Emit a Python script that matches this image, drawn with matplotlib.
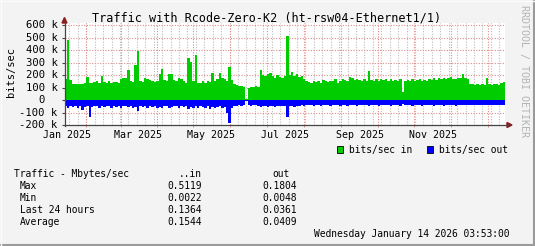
import numpy as np
import matplotlib.pyplot as plt
import matplotlib.transforms as mtransforms
from matplotlib.patches import Rectangle, Polygon
from matplotlib.lines import Line2D

plt.rcParams['font.family'] = ['DejaVu Sans Mono']

# traffic in k bits/sec, one value per 2 days, first value 2 days before Jan 1 2025
traffic_in = [
    165, 484, 160, 128, 130, 127, 132, 128, 135, 185,
    140, 138, 145, 150, 140, 195, 145, 140, 150, 138,
    142, 148, 140, 165, 175, 180, 238, 150, 145, 278,
    397, 150, 142, 175, 168, 160, 150, 145, 150, 205,
    246, 160, 150, 205, 210, 160, 150, 175, 165, 150,
    140, 336, 304, 150, 362, 140, 135, 150, 140, 155,
    145, 220, 150, 170, 215, 180, 165, 150, 262, 160,
    125, 118, 112, 115, 108, 10, 95, 108, 105, 110,
    105, 240, 200, 195, 205, 215, 190, 175, 200, 185,
    180, 195, 512, 200, 225, 190, 210, 185, 190, 170,
    150, 145, 140, 150, 145, 150, 140, 160, 150, 145,
    155, 150, 165, 140, 150, 170, 160, 150, 185, 175,
    160, 165, 160, 150, 170, 155, 230, 160, 155, 170,
    150, 165, 160, 170, 150, 165, 155, 160, 155, 165,
    66, 150, 160, 155, 165, 150, 160, 170, 155, 160,
    150, 165, 158, 180, 160, 175, 170, 180, 165, 175,
    185, 170, 165, 180, 175, 210, 175, 165, 130, 125,
    120, 130, 118, 125, 122, 180, 128, 120, 125, 130,
    122, 135, 145,
]
traffic_out = [
    45, 60, 50, 55, 45, 60, 50, 80, 55, 50,
    137, 55, 45, 50, 60, 45, 55, 50, 45, 60,
    50, 55, 45, 65, 50, 45, 55, 50, 60, 55,
    85, 50, 55, 45, 60, 50, 55, 45, 60, 55,
    65, 50, 45, 60, 55, 45, 50, 65, 45, 55,
    50, 75, 55, 60, 50, 65, 45, 55, 60, 50,
    75, 55, 60, 55, 50, 60, 55, 100, 185, 60,
    50, 45, 40, 45, 40, 5, 40, 45, 40, 42,
    45, 55, 50, 45, 55, 50, 45, 55, 50, 45,
    50, 45, 132, 50, 45, 55, 45, 50, 40, 45,
    40, 42, 38, 45, 40, 42, 45, 40, 38, 42,
    45, 40, 42, 38, 45, 40, 42, 45, 40, 38,
    42, 45, 40, 38, 42, 40, 45, 38, 42, 40,
    45, 40, 38, 42, 40, 45, 38, 42, 40, 45,
    30, 42, 40, 38, 45, 40, 42, 38, 45, 40,
    42, 38, 40, 45, 42, 40, 38, 45, 42, 40,
    38, 42, 45, 40, 38, 42, 40, 38, 42, 40,
    38, 40, 42, 38, 40, 42, 38, 40, 42, 38,
    40, 42, 40,
]

month_labels = ['Jan 2025', 'Mar 2025', 'May 2025', 'Jul 2025', 'Sep 2025', 'Nov 2025']
month_label_days = [0, 59, 120, 181, 243, 304]
month_starts = [0, 31, 59, 90, 120, 151, 181, 212, 243, 273, 304, 334, 365]

y_ticks = [-200, -100, 0, 100, 200, 300, 400, 500, 600]
y_tick_labels = ['-200 k', '-100 k', '0', '100 k', '200 k', '300 k', '400 k', '500 k', '600 k']

stat_names = ['Max', 'Min', 'Last 24 hours', 'Average']
stat_in = ['0.5119', '0.0022', '0.1364', '0.1544']
stat_out = ['0.1804', '0.0048', '0.0361', '0.0409']

W, H = 535, 246
BG = '#f3f3f3'
MAJOR = '#e08c8c'
MINOR = '#bdbdbd'
AXIS = '#454545'
ARROW = '#8c1c1c'


def fx(x):
    return x / W


def fy(y):
    return 1 - y / H


fig = plt.figure(figsize=(W / 100, H / 100), dpi=100, facecolor=BG)
ax = fig.add_axes([fx(64.5), fy(125), 440.5 / W, 102.3 / H])
ax.set_facecolor('white')

days = -2 + 2 * np.arange(len(traffic_in))
x = np.append(days, days[-1] + 2)
vin = np.array(traffic_in + [traffic_in[-1]]) * 1000
vout = -np.array(traffic_out + [traffic_out[-1]]) * 1000

ax.set_xlim(-2.08, 363.8)
ax.set_ylim(-200000, 620000)

# grid
for d in np.arange(2, 364, 7):
    ax.axvline(d, color=MINOR, lw=0.8, ls=(0, (1, 1.4)), zorder=0.5)
mids = [(month_starts[i] + month_starts[i + 1]) / 2 for i in range(12)]
for d in mids:
    ax.axvline(d, color=MAJOR, lw=0.8, ls=(0, (1, 1.4)), zorder=0.6)
for v in y_ticks[1:]:
    ax.axhline(v * 1000, color=MAJOR, lw=0.8, ls=(0, (1, 1.4)), zorder=0.6)

ax.fill_between(x, 0, vin, step='post', color='#00cc00', lw=0, zorder=2)
ax.fill_between(x, 0, vout, step='post', color='#0000ff', lw=0, zorder=2)

for s in ax.spines.values():
    s.set_visible(False)
ax.set_yticks([v * 1000 for v in y_ticks])
ax.set_yticklabels([])
ax.tick_params(axis='y', length=2.2, width=0.8, color=AXIS, direction='out')
ax.set_xticks(mids)
ax.set_xticklabels([])
ax.tick_params(axis='x', length=1.6, width=0.7, color=MAJOR, direction='out')

# axis lines with arrows
fig.add_artist(Line2D([fx(64.5), fx(508)], [fy(125), fy(125)], color=AXIS, lw=0.9))
fig.add_artist(Line2D([fx(64.5), fx(64.5)], [fy(125.5), fy(21)], color=AXIS, lw=0.9))
fig.add_artist(Polygon([[fx(507), fy(122.5)], [fx(512), fy(125)], [fx(507), fy(127.5)]],
                       closed=True, color=ARROW, transform=fig.transFigure))
fig.add_artist(Polygon([[fx(62), fy(23)], [fx(64.5), fy(17.5)], [fx(67), fy(23)]],
                       closed=True, color=ARROW, transform=fig.transFigure))

# y labels
ytrans = mtransforms.blended_transform_factory(fig.transFigure, ax.transData)
ytrans = mtransforms.offset_copy(ytrans, fig=fig, y=-3.3, units='dots')
for v, lab in zip(y_ticks, y_tick_labels):
    xr = 45.2 if lab == '0' else 57.7
    ax.text(fx(xr), v * 1000, lab, transform=ytrans, ha='right', va='baseline',
            fontsize=7.6, color='black')

# x labels
xtrans = mtransforms.blended_transform_factory(ax.transData, fig.transFigure)
for d, lab in zip(month_label_days, month_labels):
    ax.text(d, fy(137.7), lab, transform=xtrans, ha='center', va='baseline',
            fontsize=7.2, color='black')

fig.text(fx(266.7), fy(21.3), 'Traffic with Rcode-Zero-K2 (ht-rsw04-Ethernet1/1)',
         ha='center', va='baseline', fontsize=8.5)
fig.text(fx(11), fy(71.7), 'bits/sec', rotation=90, ha='center', va='center', fontsize=7.5)
fig.text(fx(524), fy(71), 'RRDTOOL / TOBI OETIKER', rotation=270, ha='center', va='center',
         fontsize=7.2, color='#b3b3b3')

# legend
fig.add_artist(Rectangle((fx(336.7), fy(152.7)), 6.6 / W, 6.6 / H, facecolor='#00cc00',
                         edgecolor='black', lw=0.6, transform=fig.transFigure))
fig.text(fx(349), fy(152.6), 'bits/sec in', ha='left', va='baseline', fontsize=6.9)
fig.add_artist(Rectangle((fx(426.7), fy(152.7)), 6.6 / W, 6.6 / H, facecolor='#0000ff',
                         edgecolor='black', lw=0.6, transform=fig.transFigure))
fig.text(fx(439), fy(152.6), 'bits/sec out', ha='left', va='baseline', fontsize=6.9)

# statistics
fig.text(fx(14), fy(177.2), 'Traffic - Mbytes/sec', ha='left', va='baseline', fontsize=6.9)
fig.text(fx(202), fy(177.2), '..in', ha='right', va='baseline', fontsize=6.9)
fig.text(fx(272), fy(177.2), 'out', ha='left', va='baseline', fontsize=6.9)
for i, name in enumerate(stat_names):
    yb = 189.4 + 11.9 * i
    fig.text(fx(19.8), fy(yb), name, ha='left', va='baseline', fontsize=6.9)
    fig.text(fx(202), fy(yb), stat_in[i], ha='right', va='baseline', fontsize=6.9)
    fig.text(fx(297), fy(yb), stat_out[i], ha='right', va='baseline', fontsize=6.9)
fig.text(fx(509.5), fy(237.2), 'Wednesday January 14 2026 03:53:00', ha='right',
         va='baseline', fontsize=6.9)

# frame
fig.add_artist(Line2D([0, 1], [fy(245), fy(245)], color='#9a9a9a', lw=1.5))
fig.add_artist(Line2D([fx(534), fx(534)], [0, 1], color='#9a9a9a', lw=1.5))
fig.add_artist(Line2D([0, 1], [fy(0.5), fy(0.5)], color='#fcfcfc', lw=1))
fig.add_artist(Line2D([fx(0.5), fx(0.5)], [0, 1], color='#fcfcfc', lw=1))

fig.savefig('out.png', dpi=100, facecolor=BG)
